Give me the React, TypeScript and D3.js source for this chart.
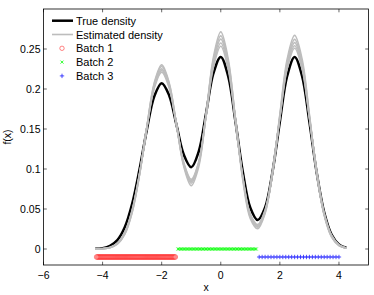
import React from 'react';
import * as d3 from 'd3';

const xGrid = [-4.25, -4, -3.75, -3.5, -3.25, -3, -2.75, -2.5, -2.25, -2, -1.75, -1.5, -1.25, -1, -0.75, -0.5, -0.25, 0, 0.25, 0.5, 0.75, 1, 1.25, 1.5, 1.75, 2, 2.25, 2.5, 2.75, 3, 3.25, 3.5, 3.75, 4, 4.25];

const trueDensity = [0.0003, 0.0011, 0.0039, 0.0111, 0.0271, 0.0564, 0.0996, 0.1495, 0.1909, 0.2073, 0.1923, 0.1553, 0.1177, 0.1022, 0.1214, 0.1692, 0.2195, 0.2401, 0.216, 0.1584, 0.0958, 0.0516, 0.0362, 0.0518, 0.0962, 0.1591, 0.2166, 0.24, 0.2165, 0.1588, 0.0947, 0.046, 0.0181, 0.0058, 0.0015];

const estimated1 = [0.0001, 0.0004, 0.0016, 0.006, 0.0182, 0.0454, 0.0923, 0.1533, 0.2078, 0.2301, 0.2083, 0.1558, 0.1028, 0.0792, 0.1022, 0.167, 0.2395, 0.2714, 0.238, 0.1612, 0.0849, 0.038, 0.0253, 0.0445, 0.0949, 0.1683, 0.2379, 0.267, 0.2379, 0.1682, 0.0944, 0.042, 0.0149, 0.0042, 0.0009];
const estimated2 = [0.0001, 0.0004, 0.0017, 0.0063, 0.0189, 0.0463, 0.093, 0.1531, 0.2064, 0.2281, 0.207, 0.1561, 0.1047, 0.0823, 0.1053, 0.1676, 0.2364, 0.2664, 0.2348, 0.1615, 0.0874, 0.0404, 0.0271, 0.0457, 0.095, 0.1666, 0.2339, 0.262, 0.2339, 0.1665, 0.0944, 0.0427, 0.0154, 0.0044, 0.001];
const estimated3 = [0.0001, 0.0004, 0.0019, 0.0066, 0.0195, 0.047, 0.0932, 0.1521, 0.204, 0.2251, 0.2047, 0.1553, 0.1054, 0.0839, 0.1065, 0.1671, 0.2337, 0.2624, 0.2319, 0.1607, 0.0881, 0.0416, 0.0282, 0.0467, 0.0955, 0.1654, 0.2308, 0.258, 0.2308, 0.1653, 0.0948, 0.0435, 0.016, 0.0047, 0.0011];
const estimated4 = [0.0001, 0.0005, 0.002, 0.007, 0.0201, 0.0479, 0.0938, 0.1518, 0.2026, 0.2231, 0.2033, 0.1552, 0.1066, 0.0855, 0.1073, 0.1659, 0.2299, 0.2575, 0.228, 0.1591, 0.0884, 0.0426, 0.0293, 0.0477, 0.0958, 0.1642, 0.2277, 0.254, 0.2277, 0.1641, 0.0951, 0.0443, 0.0166, 0.005, 0.0012];
const estimated5 = [0.0001, 0.0005, 0.0022, 0.0074, 0.0208, 0.0487, 0.0944, 0.1514, 0.2011, 0.2211, 0.2019, 0.155, 0.1077, 0.0871, 0.1084, 0.1653, 0.2271, 0.2535, 0.225, 0.1582, 0.0889, 0.0437, 0.0305, 0.0488, 0.0965, 0.1636, 0.2255, 0.251, 0.2255, 0.1635, 0.0957, 0.0452, 0.0172, 0.0053, 0.0013];
const estimatedSeries = [estimated1, estimated2, estimated3, estimated4, estimated5];

const batch1X = [-4.2, -4.165, -4.13, -4.095, -4.06, -4.025, -3.99, -3.955, -3.92, -3.885, -3.85, -3.815, -3.78, -3.745, -3.71, -3.675, -3.64, -3.605, -3.57, -3.535, -3.5, -3.465, -3.43, -3.395, -3.36, -3.325, -3.29, -3.255, -3.22, -3.185, -3.15, -3.115, -3.08, -3.045, -3.01, -2.975, -2.94, -2.905, -2.87, -2.835, -2.8, -2.765, -2.73, -2.695, -2.66, -2.625, -2.59, -2.555, -2.52, -2.485, -2.45, -2.415, -2.38, -2.345, -2.31, -2.275, -2.24, -2.205, -2.17, -2.135, -2.1, -2.065, -2.03, -1.995, -1.96, -1.925, -1.89, -1.855, -1.82, -1.785, -1.75, -1.715, -1.68, -1.645, -1.61, -1.575, -1.54];
const batch2X = [-1.45, -1.4, -1.35, -1.3, -1.25, -1.2, -1.15, -1.1, -1.05, -1, -0.95, -0.9, -0.85, -0.8, -0.75, -0.7, -0.65, -0.6, -0.55, -0.5, -0.45, -0.4, -0.35, -0.3, -0.25, -0.2, -0.15, -0.1, -0.05, 0, 0.05, 0.1, 0.15, 0.2, 0.25, 0.3, 0.35, 0.4, 0.45, 0.5, 0.55, 0.6, 0.65, 0.7, 0.75, 0.8, 0.85, 0.9, 0.95, 1, 1.05, 1.1, 1.15, 1.2];
const batch3X = [1.3, 1.4, 1.5, 1.6, 1.7, 1.8, 1.9, 2, 2.1, 2.2, 2.3, 2.4, 2.5, 2.6, 2.7, 2.8, 2.9, 3, 3.1, 3.2, 3.3, 3.4, 3.5, 3.6, 3.7, 3.8, 3.9, 4];
const batch1Y = -0.01;
const batch2Y = 0;
const batch3Y = -0.01;

const xTicks = [-6, -4, -2, 0, 2, 4];
const xTickLabels = ['\u22126', '\u22124', '\u22122', '0', '2', '4'];
const yTicks = [0, 0.05, 0.1, 0.15, 0.2, 0.25];
const yTickLabels = ['0', '0.05', '0.1', '0.15', '0.2', '0.25'];
const legendLabels = ['True density', 'Estimated density', 'Batch 1', 'Batch 2', 'Batch 3'];

const W = 374;
const H = 295;
const FONT = '"Liberation Sans", Arial, Helvetica, sans-serif';

export default function App() {
  const x = d3.scaleLinear().domain([-6, 5]).range([43.5, 368.5]);
  const y = d3.scaleLinear().domain([-0.02, 0.3]).range([265, 9]);
  const [x0, x1] = x.range();
  const [y0, y1] = y.range();

  const line = d3
    .line<number>()
    .x((_, i) => x(xGrid[i]))
    .y((d) => y(d))
    .curve(d3.curveCatmullRom.alpha(0.5));

  const tickLen = 3.3;
  const legY = (i: number) => 20.7 + i * 13.8;

  const circleMark = (cx: number, cy: number, key: string, r = 2.4) => (
    <circle key={key} cx={cx} cy={cy} r={r} fill="none" stroke="#ff2020" strokeWidth={0.55} />
  );
  const xMark = (cx: number, cy: number, key: string, s = 1.5) => (
    <path key={key} d={`M${cx - s},${cy - s}L${cx + s},${cy + s}M${cx - s},${cy + s}L${cx + s},${cy - s}`} stroke="#00ff00" strokeWidth={0.8} />
  );
  const plusMark = (cx: number, cy: number, key: string, s = 2.2) => (
    <path key={key} d={`M${cx - s},${cy}L${cx + s},${cy}M${cx},${cy - s}L${cx},${cy + s}`} stroke="#0000ff" strokeWidth={0.7} />
  );

  return (
    <svg width={W} height={H} style={{ position: 'absolute', left: 0, top: 0, background: '#fff' }} fontFamily={FONT}>
      <rect x={0} y={0} width={W} height={H} fill="#fff" />
      {/* curves */}
      <path d={line(trueDensity) || ''} fill="none" stroke="#000" strokeWidth={2.5} />
      {estimatedSeries.map((s, i) => (
        <path key={'e' + i} d={line(s) || ''} fill="none" stroke="#bdbdbd" strokeWidth={1.6} />
      ))}
      {/* batches */}
      {batch1X.map((v, i) => circleMark(x(v), y(batch1Y), 'b1' + i))}
      {batch2X.map((v, i) => xMark(x(v), y(batch2Y), 'b2' + i))}
      {batch3X.map((v, i) => plusMark(x(v), y(batch3Y), 'b3' + i))}
      {/* box */}
      <rect x={x0} y={y1} width={x1 - x0} height={y0 - y1} fill="none" stroke="#000" strokeWidth={0.8} />
      {/* x ticks */}
      {xTicks.map((t, i) => (
        <g key={'xt' + i}>
          <line x1={x(t)} x2={x(t)} y1={y0} y2={y0 - tickLen} stroke="#000" strokeWidth={0.6} />
          <line x1={x(t)} x2={x(t)} y1={y1} y2={y1 + tickLen} stroke="#000" strokeWidth={0.6} />
          <text x={x(t)} y={278.5} fontSize={10.5} textAnchor="middle" fill="#000">
            {xTickLabels[i]}
          </text>
        </g>
      ))}
      {/* y ticks */}
      {yTicks.map((t, i) => (
        <g key={'yt' + i}>
          <line x1={x0} x2={x0 + tickLen} y1={y(t)} y2={y(t)} stroke="#000" strokeWidth={0.6} />
          <line x1={x1} x2={x1 - tickLen} y1={y(t)} y2={y(t)} stroke="#000" strokeWidth={0.6} />
          <text x={40.5} y={y(t) + 3.7} fontSize={10.5} textAnchor="end" fill="#000">
            {yTickLabels[i]}
          </text>
        </g>
      ))}
      <text x={(x0 + x1) / 2} y={291} fontSize={10.5} textAnchor="middle" fill="#000">
        x
      </text>
      <text transform={`translate(11,137) rotate(-90)`} fontSize={10.5} textAnchor="middle" fill="#000">
        f(x)
      </text>
      {/* legend */}
      <line x1={52} x2={73} y1={legY(0)} y2={legY(0)} stroke="#000" strokeWidth={2.5} />
      <line x1={52} x2={73} y1={legY(1)} y2={legY(1)} stroke="#bdbdbd" strokeWidth={1.6} />
      {circleMark(62, legY(2), 'lg1', 2.2)}
      {xMark(62, legY(3), 'lg2', 1.5)}
      {plusMark(62, legY(4), 'lg3', 2.2)}
      {legendLabels.map((l, i) => (
        <text key={'lt' + i} x={76} y={legY(i) + 4} fontSize={11} fill="#000">
          {l}
        </text>
      ))}
    </svg>
  );
}
